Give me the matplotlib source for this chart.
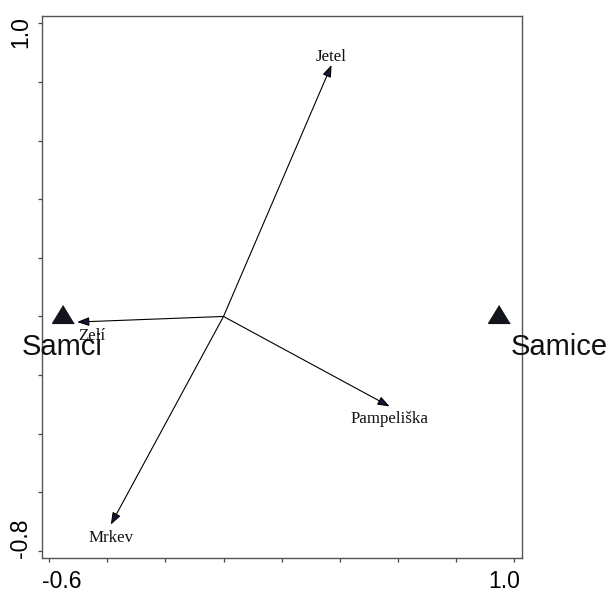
import matplotlib
matplotlib.use('Agg')
import matplotlib.pyplot as plt
from matplotlib.transforms import ScaledTranslation

# species arrows (biplot scores)
species = ['Jetel', 'Zelí', 'Mrkev', 'Pampeliška']
sp_x = [0.372, -0.504, -0.388, 0.572]
sp_y = [0.858, -0.019, -0.710, -0.307]
# where the species names sit (baseline)
lab_x = [0.370, -0.454, -0.388, 0.572]
lab_y = [0.872, -0.080, -0.770, -0.364]

# sample centroids
groups = ['Samci', 'Samice']
grp_x = [-0.554, 0.949]
grp_y = [0.009, 0.008]
grp_lab_x = [-0.555, 1.155]
grp_lab_y = [-0.133, -0.133]

xticks = [-0.6, -0.4, -0.2, 0.0, 0.2, 0.4, 0.6, 0.8, 1.0]
yticks = [-0.8, -0.6, -0.4, -0.2, 0.0, 0.2, 0.4, 0.6, 0.8, 1.0]

fig = plt.figure(figsize=(6.11, 5.92), dpi=100)
ax = fig.add_axes([0.0682, 0.0574, 0.7856, 0.9161])

serif = ['Liberation Serif', 'DejaVu Serif']
sans = ['Liberation Sans', 'DejaVu Sans']

for i, name in enumerate(species):
    ax.annotate('', xy=(sp_x[i], sp_y[i]), xytext=(0, 0),
                arrowprops=dict(arrowstyle='-|>,head_length=0.6,head_width=0.22',
                                mutation_scale=12, lw=0.8, color='black',
                                fc='#14143c', shrinkA=0, shrinkB=0))
    ax.text(lab_x[i], lab_y[i], name, ha='center', va='baseline',
            fontsize=12.2, family=serif, color='#111111')

tri = [(0, 0.82), (-1, -0.82), (1, -0.82)]
ax.plot(grp_x, grp_y, linestyle='none', marker=tri, markersize=15.6,
        color='#13151c', clip_on=False)
for i, g in enumerate(groups):
    ax.text(grp_lab_x[i], grp_lab_y[i], g, ha='center', va='baseline',
            fontsize=21, family=sans, color='#111111', clip_on=False, zorder=5)

ax.set_xlim(-0.626, 1.0265)
ax.set_ylim(-0.824, 1.026)
ax.set_xticks(xticks)
ax.set_yticks(yticks)
ax.tick_params(direction='out', length=3, width=0.9, color='#444444',
               labelbottom=False, labelleft=False)
for s in ax.spines.values():
    s.set_color('#555555')
    s.set_linewidth(1.0)

# end labels only, kept inside the frame like the original
def off(dx, dy):
    return ax.transAxes + ScaledTranslation(dx / 100, dy / 100, fig.dpi_scale_trans)

tick_font = dict(fontsize=16.6, family=sans, color='black')
ax.text(0, 0, '%.1f' % xticks[0], ha='left', va='baseline',
        transform=off(0, -30), **tick_font)
ax.text(1, 0, '%.1f' % xticks[-1], ha='right', va='baseline',
        transform=off(-2, -30), **tick_font)
ax.text(0, 0, '%.1f' % yticks[0], ha='left', va='baseline', rotation=90,
        rotation_mode='anchor', transform=off(-14.7, 0), **tick_font)
ax.text(0, 1, '%.1f' % yticks[-1], ha='right', va='baseline', rotation=90,
        rotation_mode='anchor', transform=off(-14.7, -0.7), **tick_font)

fig.savefig('out.png', dpi=100)
